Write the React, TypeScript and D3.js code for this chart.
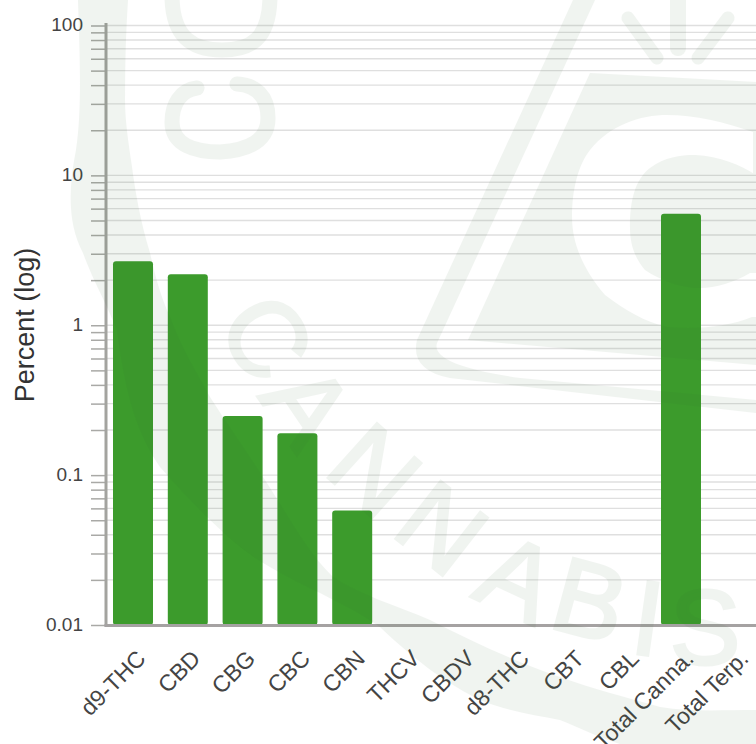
import { useEffect, useRef } from 'react'
import * as d3 from 'd3'

const WIDTH = 756
const HEIGHT = 744
const FONT = '"Liberation Sans", Arial, sans-serif'

const categories = ['d9-THC', 'CBD', 'CBG', 'CBC', 'CBN', 'THCV', 'CBDV', 'd8-THC', 'CBT', 'CBL', 'Total Canna.', 'Total Terp.']
// null = nothing measured, no bar drawn
const percent = [2.67, 2.19, 0.248, 0.19, 0.058, null, null, null, null, null, 5.54, null]
const yLabels = [0.01, 0.1, 1, 10, 100]

// faint logo lying over the chart
const logoLetters = [
    { t: 'C', x: 267, y: 337, r: 58 },
    { t: 'A', x: 308, y: 405, r: 56 },
    { t: 'N', x: 375, y: 470, r: 42 },
    { t: 'N', x: 442, y: 528, r: 38 },
    { t: 'A', x: 518, y: 578, r: 25 },
    { t: 'B', x: 590, y: 600, r: 15 },
    { t: 'I', x: 648, y: 618, r: 8 },
    { t: 'S', x: 705, y: 627, r: 0 },
]
const logoPaths = [
    // ring, left side running round the bottom
    'M78 0 C80 60 82 110 76 150 C68 190 68 225 83 253 C95 285 105 300 117 330 C125 390 135 430 160 467 C190 500 230 545 270 567 C310 590 350 605 380 627 C420 665 450 685 480 700 C510 712 535 715 560 720 C580 728 600 738 620 744 L756 744 L756 710 C720 710 690 712 660 707 C625 697 590 688 560 677 C510 660 470 640 430 620 C395 605 360 595 333 577 C305 550 285 510 263 477 C245 450 228 425 210 397 C195 370 180 345 170 317 C160 295 155 275 150 253 C140 220 135 190 132 167 C128 140 125 120 125 100 C125 60 126 30 128 0 Z',
    // outer frame
    'M573 0 L417 340 Q410 370 450 378 L756 413 L756 400 L520 378 Q430 365 437 343 L595 0 Z',
    // solid block with the round window cut out
    'M590 73 L468 340 L756 365 L756 317 L752 317 C730 326 700 330 667 327 C645 322 625 310 605 295 C585 272 572 245 572 217 C572 190 578 165 590 150 C610 125 640 115 667 115 C695 115 725 122 753 132 L753 175 L756 175 L756 82 Z',
    // blob in the window
    'M630 227 C630 200 635 180 650 168 C665 157 680 155 695 155 C720 156 740 165 756 175 L756 273 L750 273 C735 282 715 288 700 288 C680 288 660 280 645 270 C635 258 630 245 630 227 Z',
]
const logoStrokes = [
    { d: 'M628 18 L657 58', w: 13 },
    { d: 'M678 -5 L678 48', w: 16 },
    { d: 'M728 18 L698 58', w: 13 },
    { d: 'M172 -5 C172 40 195 50 222 50 C250 50 270 40 270 -5', w: 15 },
    { d: 'M197 88 C180 90 172 105 172 122 C172 145 195 152 220 152 C250 150 268 140 268 118 C268 95 255 85 237 84', w: 15 },
]

export default function App() {
    const svgRef = useRef<SVGSVGElement | null>(null)

    useEffect(() => {
        const svg = d3.select(svgRef.current)
        svg.selectAll('*').remove()

        const x = d3.scaleBand<string>()
            .domain(categories)
            .range([105.6, 763.2])
            .paddingInner(0.27)
            .paddingOuter(0.135)
        const y = d3.scaleLog().domain([0.01, 100]).range([625, 25.5])
        const left = 106

        const rows = categories.map((c, i) => ({ c, v: percent[i] }))

        // grid
        svg.append('g')
            .selectAll('line')
            .data(y.ticks())
            .enter()
            .append('line')
            .attr('x1', left)
            .attr('x2', WIDTH)
            .attr('y1', (d: number) => y(d))
            .attr('y2', (d: number) => y(d))
            .attr('stroke', '#dfdfdf')
            .attr('stroke-width', 1.4)

        // y axis, every log tick but only decades get a label
        const yAxis = d3.axisLeft(y)
            .tickSize(15)
            .tickPadding(8)
            .tickFormat((d: any) => (yLabels.includes(+d) ? String(+d) : ''))
        const yG = svg.append('g').attr('transform', `translate(${left},0)`).call(yAxis as any)
        yG.select('.domain').remove()
        yG.selectAll('.tick line').attr('stroke', '#a9a9a6').attr('stroke-width', 1.5)
        yG.selectAll('.tick text')
            .attr('fill', '#444')
            .attr('font-family', FONT)
            .attr('font-size', 19)
            .attr('dy', '0.28em')

        // bars
        svg.append('g')
            .selectAll('rect')
            .data(rows.filter((d) => d.v !== null))
            .enter()
            .append('rect')
            .attr('x', (d: any) => x(d.c))
            .attr('y', (d: any) => y(d.v))
            .attr('width', x.bandwidth())
            .attr('height', (d: any) => 625 - y(d.v))
            .attr('rx', 3)
            .attr('fill', '#3c9b2c')

        // axis lines
        svg.append('line')
            .attr('x1', left).attr('x2', left)
            .attr('y1', 23).attr('y2', 626.5)
            .attr('stroke', '#a3a39f').attr('stroke-width', 3)
        svg.append('line')
            .attr('x1', left - 1.5).attr('x2', WIDTH)
            .attr('y1', 625.5).attr('y2', 625.5)
            .attr('stroke', '#a5a2a2').attr('stroke-width', 3)

        // x labels
        svg.append('g')
            .selectAll('text')
            .data(categories)
            .enter()
            .append('text')
            .attr('transform', (d: string) => `translate(${x(d)! + x.bandwidth() / 2 + 14},660) rotate(-45)`)
            .attr('text-anchor', 'end')
            .attr('fill', '#444')
            .attr('font-family', FONT)
            .attr('font-size', 23)
            .text((d: string) => d)

        svg.append('text')
            .attr('transform', 'translate(34,325) rotate(-90)')
            .attr('text-anchor', 'middle')
            .attr('fill', '#333')
            .attr('font-family', FONT)
            .attr('font-size', 27)
            .text('Percent (log)')

        // watermark on top of everything
        const logo = svg.append('g').attr('opacity', 0.065).attr('pointer-events', 'none')
        logo.selectAll('.fillPath')
            .data(logoPaths)
            .enter()
            .append('path')
            .attr('d', (d: string) => d)
            .attr('fill', '#2e642e')
        logo.selectAll('.strokePath')
            .data(logoStrokes)
            .enter()
            .append('path')
            .attr('d', (d: any) => d.d)
            .attr('fill', 'none')
            .attr('stroke', '#2e642e')
            .attr('stroke-width', (d: any) => d.w)
            .attr('stroke-linecap', 'round')
        logo.selectAll('text')
            .data(logoLetters)
            .enter()
            .append('text')
            .attr('transform', (d: any) => `translate(${d.x},${d.y}) rotate(${d.r})`)
            .attr('text-anchor', 'middle')
            .attr('dominant-baseline', 'central')
            .attr('fill', '#2e642e')
            .attr('stroke', '#2e642e')
            .attr('stroke-width', 3)
            .attr('font-family', FONT)
            .attr('font-size', 106)
            .text((d: any) => d.t)
    }, [])

    return (
        <svg
            ref={svgRef}
            width={WIDTH}
            height={HEIGHT}
            style={{ position: 'absolute', left: 0, top: 0, display: 'block' }}
        ></svg>
    )
}
